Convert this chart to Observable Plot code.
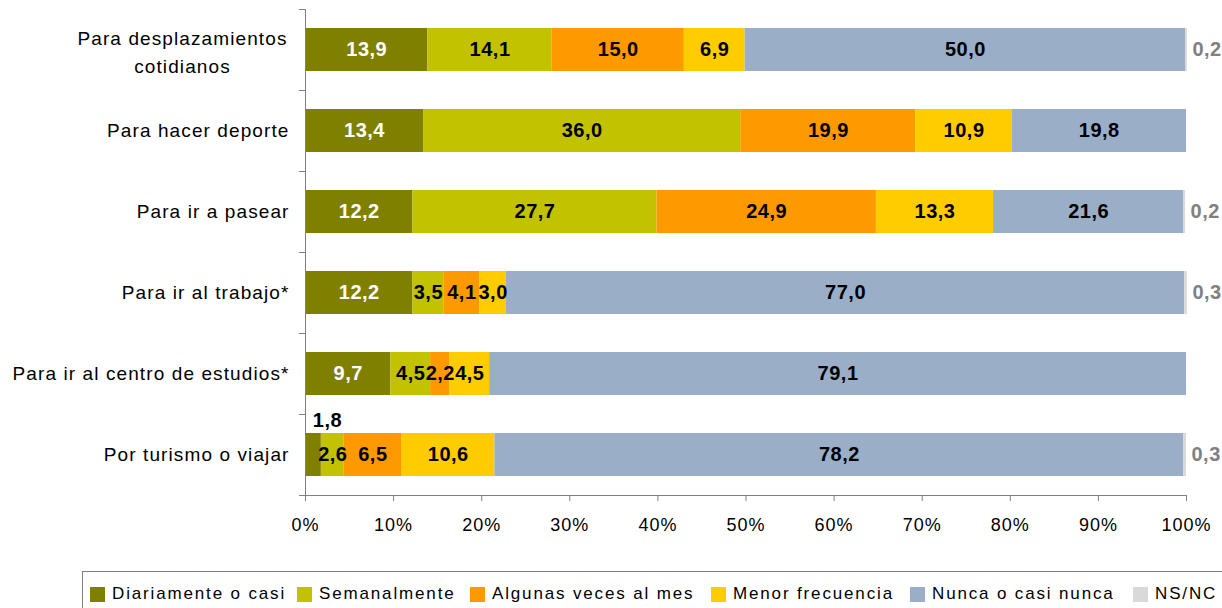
<!DOCTYPE html>
<html>
<head>
<meta charset="utf-8">
<script src="https://cdn.jsdelivr.net/npm/d3@7"></script>
<script src="https://cdn.jsdelivr.net/npm/@observablehq/plot@0.6"></script>
<style>
  html, body { margin: 0; padding: 0; background: #fff; }
  #wrap { position: relative; width: 1222px; height: 608px; overflow: hidden; font-family: "Liberation Sans", Arial, sans-serif; }
  #legend { position: absolute; top: 571px; left: 82px; width: 1160px; height: 50px; border: 1px solid #7f7f7f; box-sizing: border-box; }
  .item { position: absolute; top: 12px; display: flex; align-items: center; font-size: 17px; letter-spacing: 1.85px; color: #000; white-space: nowrap; }
  .sw { width: 15px; height: 15px; margin-right: 7px; flex: none; }
  #chart g[aria-description="values"] text { letter-spacing: 0.5px; }
  #chart g[aria-description="categories"] text { letter-spacing: 1.1px; }
  #chart g[aria-label="x-axis tick label"] text { letter-spacing: 1px; }
</style>
</head>
<body>
<div id="wrap"><div id="chart"></div><div id="legend"></div></div>
<script>
const categories = [
  "Para desplazamientos\ncotidianos",
  "Para hacer deporte",
  "Para ir a pasear",
  "Para ir al trabajo*",
  "Para ir al centro de estudios*",
  "Por turismo o viajar"
];
const series = ["Diariamente o casi", "Semanalmente", "Algunas veces al mes", "Menor frecuencia", "Nunca o casi nunca", "NS/NC"];
const colors = ["#808000", "#c2c200", "#ff9900", "#ffcc00", "#9aaec8", "#d9d9d9"];
const diariamente = [13.9, 13.4, 12.2, 12.2, 9.7, 1.8];
const semanalmente = [14.1, 36.0, 27.7, 3.5, 4.5, 2.6];
const algunasVeces = [15.0, 19.9, 24.9, 4.1, 2.2, 6.5];
const menorFrecuencia = [6.9, 10.9, 13.3, 3.0, 4.5, 10.6];
const nunca = [50.0, 19.8, 21.6, 77.0, 79.1, 78.2];
const nsnc = [0.2, 0, 0.2, 0.3, 0, 0.3];
const xTicks = [0, 10, 20, 30, 40, 50, 60, 70, 80, 90, 100];
const legendLeft = [7, 214, 387, 628, 827, 1050];

const valuesBySeries = [diariamente, semanalmente, algunasVeces, menorFrecuencia, nunca, nsnc];
const data = [];
categories.forEach((c, i) => {
  series.forEach((s, j) => data.push({category: c, series: s, value: valuesBySeries[j][i]}));
});
const fmt = v => v.toFixed(1).replace(".", ",");
const lastCat = categories[categories.length - 1];
const isAbove = d => d.series === series[0] && d.category === lastCat; // 1,8 label sits above bar

const stackOpts = {x: "value", y: "category", z: "series", order: series};
const font = "Liberation Sans, Arial, sans-serif";
const valStyle = {fontSize: 20, fontWeight: "bold", ariaDescription: "values"};

const chart = Plot.plot({
  width: 1222,
  height: 560,
  marginLeft: 305,
  marginRight: 36,
  marginTop: 9,
  marginBottom: 65,
  style: {fontFamily: font, background: "#fff"},
  x: {domain: [0, 100], axis: null},
  y: {domain: categories, paddingInner: 0.47, paddingOuter: 0.235, axis: null},
  color: {domain: series, range: colors},
  marks: [
    Plot.barX(data, Plot.stackX({...stackOpts, fill: "series"})),
    Plot.text(data, Plot.stackX({...stackOpts, ...valStyle,
      text: d => d.series === series[0] && !isAbove(d) ? fmt(d.value) : "",
      fill: "white"})),
    Plot.text(data, Plot.stackX({...stackOpts, ...valStyle,
      text: d => d.series !== series[0] && d.series !== "NS/NC" ? fmt(d.value) : "",
      fill: "black"})),
    Plot.text(data, Plot.stackX({...stackOpts, ...valStyle,
      text: d => isAbove(d) ? fmt(d.value) : "",
      fill: "black", dx: 14, dy: -34})),
    Plot.text(data, Plot.stackX2({...stackOpts, ...valStyle,
      text: d => d.series === "NS/NC" && d.value > 0 ? fmt(d.value) : "",
      fill: "#808080", textAnchor: "start", dx: 5})),
    Plot.ruleX([0], {stroke: "#808080"}),
    Plot.ruleY(categories, {y: d => d, x1: 0, x2: 0, insetLeft: -6, dy: -40.5, stroke: "#808080"}),
    Plot.ruleY([lastCat], {y: d => d, x1: 0, x2: 100, insetLeft: -6, dy: 40.5, stroke: "#808080"}),
    Plot.text(categories.filter(c => !c.includes("\n")), {y: d => d, frameAnchor: "left", textAnchor: "end", dx: -16, text: d => d, fontSize: 19, fill: "#000", ariaDescription: "categories"}),
    Plot.text(categories.filter(c => c.includes("\n")), {y: d => d, frameAnchor: "left", textAnchor: "middle", dx: -123, text: d => d, lineHeight: 1.47, fontSize: 19, fill: "#000", ariaDescription: "categories"}),
    Plot.axisX({ticks: xTicks, tickFormat: d => d + "%", tickSize: 6, tickPadding: 17, fontSize: 18, stroke: "#808080", fill: "#000", label: null})
  ]
});
document.getElementById("chart").appendChild(chart);

const legend = document.getElementById("legend");
series.forEach((s, i) => {
  const item = document.createElement("div");
  item.className = "item";
  item.style.left = legendLeft[i] + "px";
  const sw = document.createElement("span");
  sw.className = "sw";
  sw.style.background = colors[i];
  const t = document.createElement("span");
  t.textContent = s;
  item.appendChild(sw);
  item.appendChild(t);
  legend.appendChild(item);
});
</script>
</body>
</html>
